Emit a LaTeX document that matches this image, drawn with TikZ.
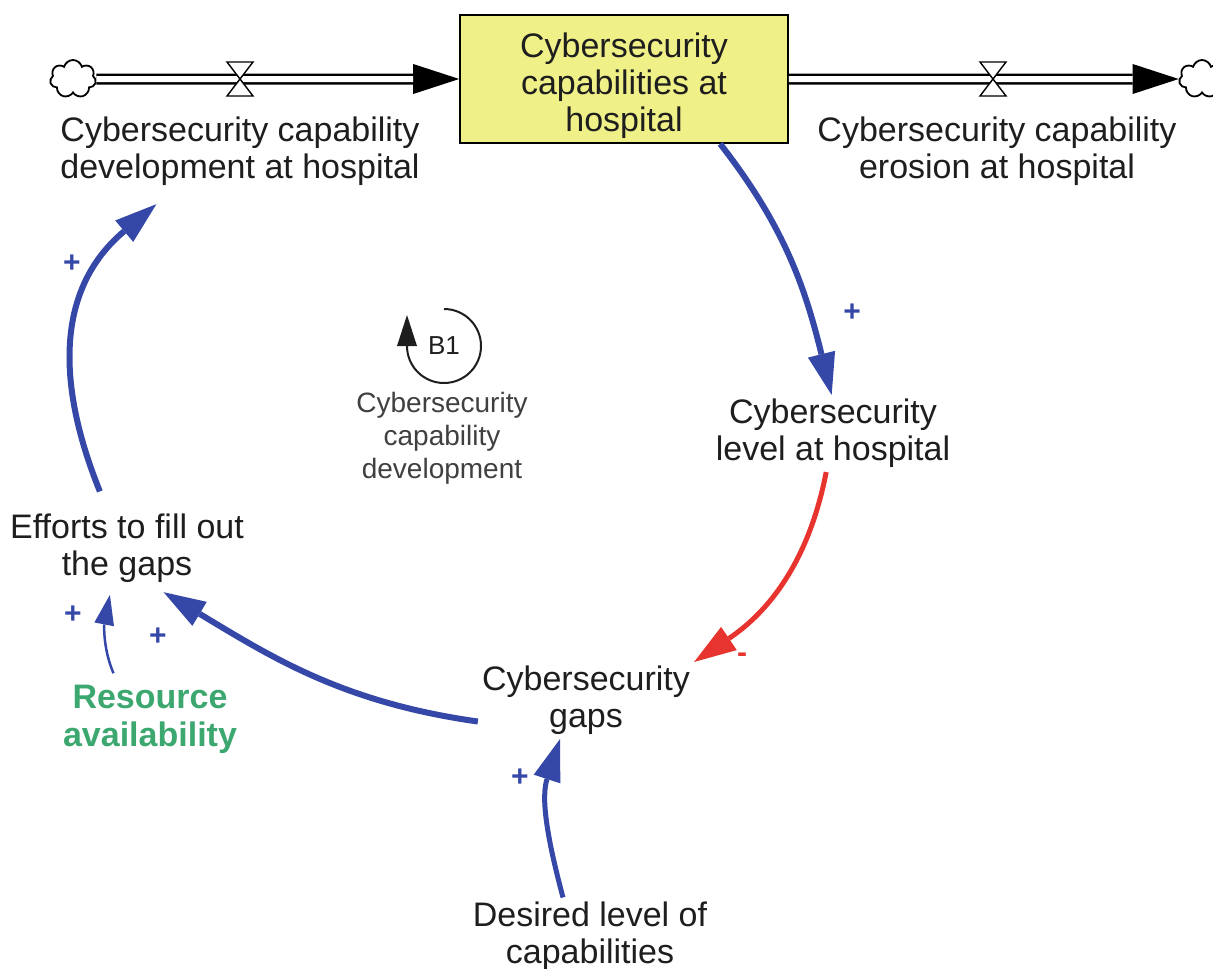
\documentclass[tikz,border=0pt]{standalone}
\usepackage{fontspec}
\setmainfont{Liberation Sans}
\usetikzlibrary{arrows.meta, shapes.symbols}
\definecolor{cblue}{HTML}{3548A8}
\definecolor{cred}{HTML}{E8342E}
\definecolor{cgreen}{HTML}{3CA870}
\definecolor{cyellow}{HTML}{F0F088}
\definecolor{ctext}{HTML}{1E1E1E}
\tikzset{
  every picture/.style={x=1pt, y=1pt},
  var/.style={align=center, inner sep=4pt, text=ctext, font=\fontsize{34}{37}\selectfont},
  stock/.style={var, draw=black, fill=cyellow, line width=1.6pt, minimum width=328pt, minimum height=128pt},
  cloudy/.style={cloud, cloud puffs=7, cloud ignores aspect, draw, line width=1.8pt, minimum width=46pt, minimum height=38pt, inner sep=0pt},
  pipe/.style={line width=11pt, -{Triangle[length=46pt, width=30pt, line width=0pt]},
    postaction={draw=white, line width=6pt, -, shorten >=46pt}},
  valve/.style={draw=black, fill=white, line width=1.4pt, line join=miter},
  link/.style={draw=cblue, line width=6pt, -{Triangle[length=42pt, width=28pt, line width=0pt]}},
  thinlink/.style={draw=cblue, line width=2.5pt, -{Triangle[length=30pt, width=20pt, line width=0pt]}},
  sign/.style={text=cblue, inner sep=0pt, font=\fontsize{30}{30}\selectfont\bfseries},
  loopar/.style={draw=ctext, line width=2pt, -{Triangle[length=31pt, width=20pt, line width=0pt]}},
}
\begin{document}
\begin{tikzpicture}
  \useasboundingbox (0,0) rectangle (1213,-969);
  % stock and flows
  \node[stock] (stock) at (624,-79) {\rule{0pt}{39pt}Cybersecurity\\capabilities at\\hospital};
  \node[cloudy] (srcL) at (73,-79) {};
  \node[cloudy] (sinkR) at (1202,-79) {};
  \draw[pipe] (srcL.east) -- (stock.west);
  \draw[pipe] (stock.east) -- (sinkR.west);
  \foreach \vx in {240,993}
    \draw[valve] (\vx,-79) -- ++(-13,17) -- ++(26,0) -- cycle
                 (\vx,-79) -- ++(-13,-17) -- ++(26,0) -- cycle;
  \node[var] (dev) at (240,-151.5) {Cybersecurity capability\\development at hospital};
  \node[var] (ero) at (997,-151.5) {Cybersecurity capability\\erosion at hospital};

  % auxiliaries
  \node[var] (level) at (833,-433.5) {Cybersecurity\\level at hospital};
  \node[var] (gaps) at (586,-700.5) {Cybersecurity\\gaps};
  \node[var] (efforts) at (127,-548.5) {Efforts to fill out\\the gaps};
  \node[var, text=cgreen, font=\fontsize{34}{38}\selectfont\bfseries] (res) at (150,-719) {Resource\\availability};
  \node[var] (desired) at (590,-936) {Desired level of\\capabilities};

  % loop B1
  \node[text=ctext, font=\fontsize{26}{26}\selectfont] (b1) at (444,-346) {B1};
  \node[var, text=ctext!85, font=\fontsize{28}{33}\selectfont] (b1name) at (442,-438) {Cybersecurity\\capability\\development};
  \draw[loopar] ([shift={(90:37)}]b1.center) arc[start angle=90, end angle=-180, radius=37] -- ++(0,31);

  % causal links
  \draw[link] (stock.-34) to[out=-52, in=104] (level.92);
  \draw[link, draw=cred, line width=5pt] (level.-100) to[out=-101, in=34] (gaps.north east);
  \draw[link, shorten >=10pt] (gaps.191) to[out=172, in=-31] (efforts.-54);
  \draw[link, shorten <=20pt, shorten >=22pt] (efforts.117) to[out=112, in=-140, looseness=1.15] (dev.210);
  \draw[thinlink, shorten <=8pt, shorten >=8pt] (res.131) to[out=113, in=-101] (efforts.-112);
  \draw[link, line width=5pt] (desired.125) to[out=105, in=-108] (gaps.236);

  \node[sign] (s1) at (852,-313) {+};
  \node[sign] (s2) at (158,-637) {+};
  \node[sign] (s3) at (72,-264) {+};
  \node[sign] (s4) at (73,-615) {+};
  \node[sign] (s5) at (520,-778) {+};
  \node[sign, text=cred] (s6) at (742,-658) {-};
\end{tikzpicture}
\end{document}
